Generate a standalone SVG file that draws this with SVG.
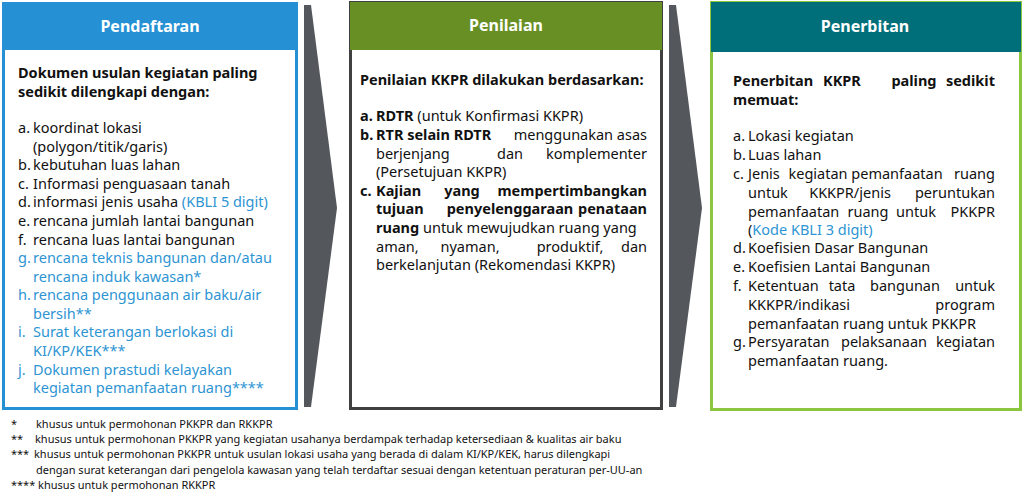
<svg xmlns="http://www.w3.org/2000/svg" width="1024" height="499" viewBox="0 0 1024 499">
<style>
text{font-family:"Noto Sans","Open Sans","Liberation Sans",sans-serif;font-size:14.5px;fill:#111}
.h{font-size:16px;font-weight:bold;fill:#fff;text-anchor:middle}
.b{font-weight:bold}
.bl{fill:#2e95d3}
.e{text-anchor:end}
.m{text-anchor:middle}
.f{font-size:11px}
</style>
<rect width="1024" height="499" fill="#fff"/>
<g id="connectors" fill="#54585c">
<polygon points="304,5 311,5 337,208 311,407 304,407"/>
<polygon points="669,5 676,5 702,208 676,407 669,407"/>
</g>
<g id="pendaftaran">
<rect x="3.5" y="3.5" width="293" height="405" fill="#fff" stroke="#2591d4" stroke-width="3"/>
<rect x="3" y="3" width="294" height="47" fill="#2591d4"/>
<text x="150" y="32" class="h">Pendaftaran</text>
<text x="18" y="78" class="b">Dokumen usulan kegiatan paling</text>
<text x="18" y="97" class="b">sedikit dilengkapi dengan:</text>
<text x="18" y="133">a.</text><text x="33" y="133">koordinat lokasi</text>
<text x="33" y="152">(polygon/titik/garis)</text>
<text x="18" y="170">b.</text><text x="33" y="170">kebutuhan luas lahan</text>
<text x="18" y="189">c.</text><text x="33" y="189">Informasi penguasaan tanah</text>
<text x="18" y="207">d.</text><text x="33" y="207">informasi jenis usaha <tspan class="bl">(KBLI 5 digit)</tspan></text>
<text x="18" y="226">e.</text><text x="33" y="226">rencana jumlah lantai bangunan</text>
<text x="18" y="245">f.</text><text x="33" y="245">rencana luas lantai bangunan</text>
<text x="18" y="263" class="bl">g.</text><text x="33" y="263" class="bl">rencana teknis bangunan dan/atau</text>
<text x="33" y="282" class="bl">rencana induk kawasan*</text>
<text x="18" y="300" class="bl">h.</text><text x="33" y="300" class="bl">rencana penggunaan air baku/air</text>
<text x="33" y="319" class="bl">bersih**</text>
<text x="18" y="337" class="bl">i.</text><text x="33" y="337" class="bl">Surat keterangan berlokasi di</text>
<text x="33" y="356" class="bl">KI/KP/KEK***</text>
<text x="18" y="375" class="bl">j.</text><text x="33" y="375" class="bl">Dokumen prastudi kelayakan</text>
<text x="33" y="393" class="bl">kegiatan pemanfaatan ruang****</text>
</g>
<g id="penilaian">
<rect x="350.5" y="2.5" width="311" height="406" fill="#fff" stroke="#404040" stroke-width="3"/>
<rect x="350" y="2" width="312" height="48" fill="#678f23"/>
<text x="506" y="31" class="h">Penilaian</text>
<text x="360" y="85" class="b">Penilaian KKPR dilakukan berdasarkan:</text>
<text x="360" y="121" class="b">a.</text><text x="376" y="121"><tspan class="b">RDTR</tspan> (untuk Konfirmasi KKPR)</text>
<text x="360" y="140" class="b">b.</text><text x="376" y="140" class="b">RTR  selain  RDTR</text><text x="647" y="140" class="e">menggunakan asas</text>
<text x="376" y="159">berjenjang</text><text x="510" y="159" class="m">dan</text><text x="647" y="159" class="e">komplementer</text>
<text x="376" y="177">(Persetujuan KKPR)</text>
<text x="360" y="196" class="b">c.</text><text x="376" y="196" class="b">Kajian</text><text x="462" y="196" class="b m">yang</text><text x="647" y="196" class="b e">mempertimbangkan</text>
<text x="376" y="214" class="b">tujuan</text><text x="510" y="214" class="b m">penyelenggaraan</text><text x="647" y="214" class="b e">penataan</text>
<text x="376" y="233"><tspan class="b">ruang</tspan> untuk mewujudkan ruang yang</text>
<text x="376" y="252">aman,</text><text x="470" y="252" class="m">nyaman,</text><text x="570" y="252" class="m">produktif,</text><text x="647" y="252" class="e">dan</text>
<text x="376" y="270">berkelanjutan (Rekomendasi KKPR)</text>
</g>
<g id="penerbitan">
<rect x="711.5" y="2.5" width="309" height="407" fill="#fff" stroke="#8cc63f" stroke-width="3"/>
<rect x="711" y="2" width="310" height="50" fill="#006f7a"/>
<text x="865" y="32" class="h">Penerbitan</text>
<text x="733" y="86" class="b">Penerbitan</text><text x="842" y="86" class="b m">KKPR</text><text x="914" y="86" class="b m">paling</text><text x="995" y="86" class="b e">sedikit</text>
<text x="733" y="105" class="b">memuat:</text>
<text x="733" y="141">a.</text><text x="748" y="141">Lokasi kegiatan</text>
<text x="733" y="160">b.</text><text x="748" y="160">Luas lahan</text>
<text x="733" y="179">c.</text><text x="748" y="179">Jenis</text><text x="818" y="179" class="m">kegiatan</text><text x="897" y="179" class="m">pemanfaatan</text><text x="995" y="179" class="e">ruang</text>
<text x="748" y="198">untuk</text><text x="850" y="198" class="m">KKKPR/jenis</text><text x="995" y="198" class="e">peruntukan</text>
<text x="748" y="217">pemanfaatan</text><text x="868" y="217" class="m">ruang</text><text x="916" y="217" class="m">untuk</text><text x="995" y="217" class="e">PKKPR</text>
<text x="748" y="235">(<tspan class="bl">Kode KBLI 3 digit)</tspan></text>
<text x="733" y="253">d.</text><text x="748" y="253">Koefisien Dasar Bangunan</text>
<text x="733" y="272">e.</text><text x="748" y="272">Koefisien Lantai Bangunan</text>
<text x="733" y="291">f.</text><text x="748" y="291">Ketentuan</text><text x="842" y="291" class="m">tata</text><text x="905" y="291" class="m">bangunan</text><text x="995" y="291" class="e">untuk</text>
<text x="748" y="310">KKKPR/indikasi</text><text x="995" y="310" class="e">program</text>
<text x="748" y="329">pemanfaatan ruang untuk PKKPR</text>
<text x="733" y="347">g.</text><text x="748" y="347">Persyaratan</text><text x="884" y="347" class="m">pelaksanaan</text><text x="995" y="347" class="e">kegiatan</text>
<text x="748" y="366">pemanfaatan ruang.</text>
</g>
<g id="footnotes">
<text x="11" y="428" class="f">*</text><text x="36" y="428" class="f">khusus untuk permohonan PKKPR dan RKKPR</text>
<text x="11" y="443" class="f">**</text><text x="35" y="443" class="f">khusus untuk permohonan PKKPR yang kegiatan usahanya berdampak terhadap ketersediaan &amp; kualitas air baku</text>
<text x="11" y="458" class="f">***</text><text x="34" y="458" class="f">khusus untuk permohonan PKKPR untuk usulan lokasi usaha yang berada di dalam KI/KP/KEK, harus dilengkapi</text>
<text x="36" y="474" class="f">dengan surat keterangan dari pengelola kawasan yang telah terdaftar sesuai dengan ketentuan peraturan per-UU-an</text>
<text x="11" y="489" class="f">**** khusus untuk permohonan RKKPR</text>
</g>
</svg>
